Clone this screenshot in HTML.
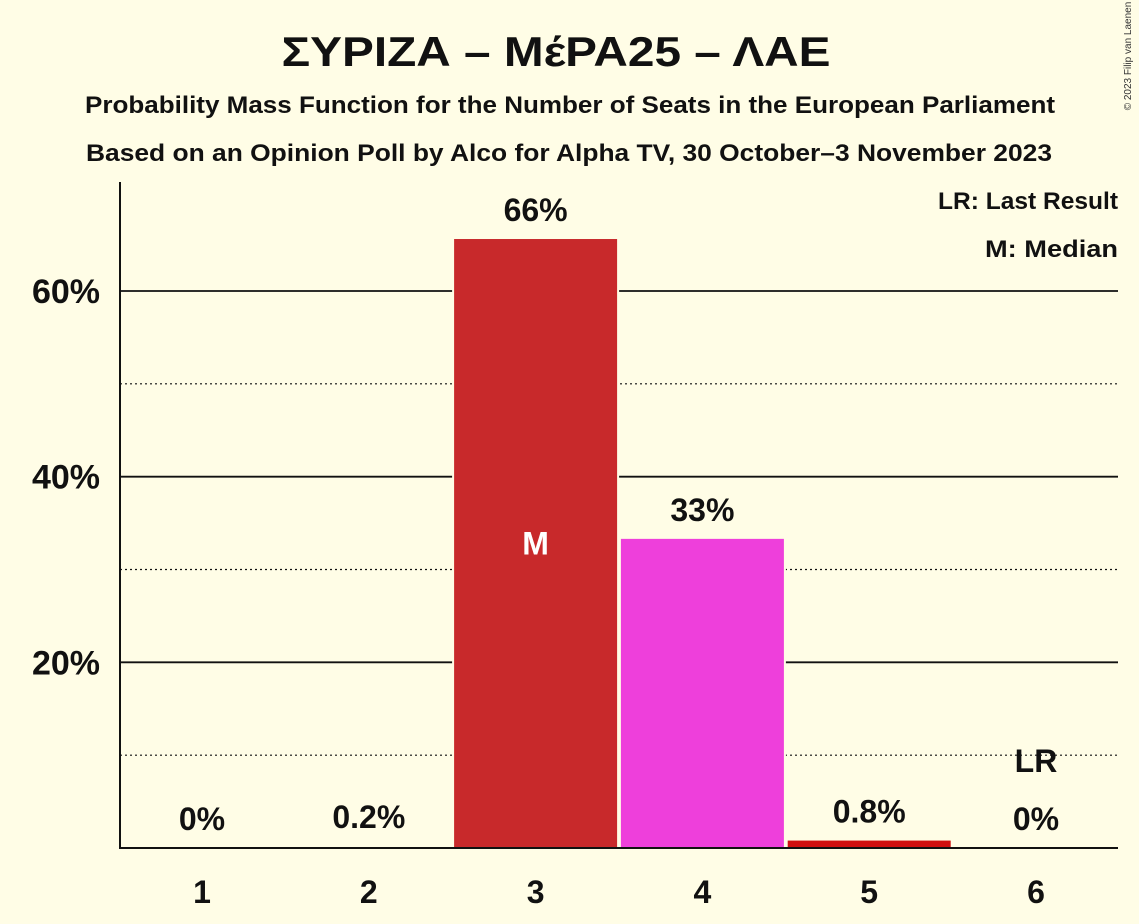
<!DOCTYPE html>
<html><head><meta charset="utf-8">
<style>
html,body{margin:0;padding:0;background:#FFFDE6;}
svg{display:block;font-family:"Liberation Sans",sans-serif;font-weight:bold;}
</style></head>
<body>
<svg id="chart" width="1139" height="924" viewBox="0 0 1139 924">
<rect width="1139" height="924" fill="#FFFDE6"/>
<text x="556" y="66" text-anchor="middle" font-size="42" fill="#111" textLength="549" lengthAdjust="spacingAndGlyphs">ΣΥΡΙΖΑ – ΜέΡΑ25 – ΛΑΕ</text>
<text x="570" y="113" text-anchor="middle" font-size="24" fill="#111" textLength="970" lengthAdjust="spacingAndGlyphs">Probability Mass Function for the Number of Seats in the European Parliament</text>
<text x="569" y="161" text-anchor="middle" font-size="24" fill="#111" textLength="966" lengthAdjust="spacingAndGlyphs">Based on an Opinion Poll by Alco for Alpha TV, 30 October–3 November 2023</text>
<text x="1131" y="56" font-size="10" font-weight="normal" fill="#333" transform="rotate(-90 1131 56)" text-anchor="middle">© 2023 Filip van Laenen</text>
<g id="grid"></g>
<g id="bars"></g>
<g id="labels"></g>
<line x1="120" y1="182" x2="120" y2="849" stroke="#111" stroke-width="2"/>
<line x1="119" y1="848" x2="1118" y2="848" stroke="#111" stroke-width="2"/>
<text x="1118" y="209" text-anchor="end" font-size="24" fill="#111" textLength="180" lengthAdjust="spacingAndGlyphs">LR: Last Result</text>
<text x="1118" y="257" text-anchor="end" font-size="24" fill="#111" textLength="133" lengthAdjust="spacingAndGlyphs">M: Median</text>
</svg>
<script>
const categories = [1, 2, 3, 4, 5, 6];
const values = [0, 0.2, 65.6, 33.3, 0.8, 0];
const valueLabels = ["0%", "0.2%", "66%", "33%", "0.8%", "0%"];
const majorTicks = [20, 40, 60];
const minorTicks = [10, 30, 50];
const tickLabels = ["20%", "40%", "60%"];
const medianIndex = 2;
const lastResultIndex = 5;

const NS = "http://www.w3.org/2000/svg";
const y0 = 848, pxPer = 9.2833;
const yScale = v => y0 - v * pxPer;
const xCenter = i => 202 + i * 166.8;
const barW = 163;
const colors = ["#C8292B", "#C8292B", "#C8292B", "#EE3FDB", "#D01010", "#C8292B"];
function mk(tag, attrs, parent) {
  const e = document.createElementNS(NS, tag);
  for (const k in attrs) e.setAttribute(k, attrs[k]);
  parent.appendChild(e);
  return e;
}
const grid = document.getElementById("grid");
const bars = document.getElementById("bars");
const labels = document.getElementById("labels");
minorTicks.forEach(t => {
  const l = mk("line", {x1: 120, x2: 1118, y1: yScale(t), y2: yScale(t), stroke: "#111", "stroke-width": 1.2, "stroke-dasharray": "2,3"}, grid);
  
  
});
majorTicks.forEach((t, i) => {
  const l = mk("line", {x1: 120, x2: 1118, y1: yScale(t), y2: yScale(t), stroke: "#111", "stroke-width": 1.8}, grid);
  
  
  const tx = mk("text", {x: 100, y: yScale(t) + 12, "text-anchor": "end", "font-size": 34, fill: "#111"}, labels);
  tx.textContent = tickLabels[i];
  
  
});
categories.forEach((c, i) => {
  const v = values[i];
  const cx = xCenter(i);
  const top = yScale(v);
  if (v >= 0.5) {
    const bg = mk("rect", {x: cx - barW / 2 - 2, y: top - 1, width: barW + 4, height: y0 - top + 1, fill: "#FFFDE6"}, bars);
    
    
    const r = mk("rect", {x: cx - barW / 2, y: top, width: barW, height: y0 - top, fill: colors[i]}, bars);
    
    
  }
  const lbl = mk("text", {x: cx, y: Math.min(top, y0) - 18, "text-anchor": "middle", "font-size": 32, fill: "#111"}, labels);
  lbl.textContent = valueLabels[i];
  
  
  const xl = mk("text", {x: cx, y: 903, "text-anchor": "middle", "font-size": 32, fill: "#111"}, labels);
  xl.textContent = c;
  
  
  if (i === medianIndex) {
    const m = mk("text", {x: cx, y: yScale(v / 2) + 11, "text-anchor": "middle", "font-size": 32, fill: "#fff"}, labels);
    m.textContent = "M";
    
    
  }
  if (i === lastResultIndex) {
    const lr = mk("text", {x: cx, y: 772, "text-anchor": "middle", "font-size": 32, fill: "#111"}, labels);
    lr.textContent = "LR";
    
    
  }
});
</script>
</body></html>
